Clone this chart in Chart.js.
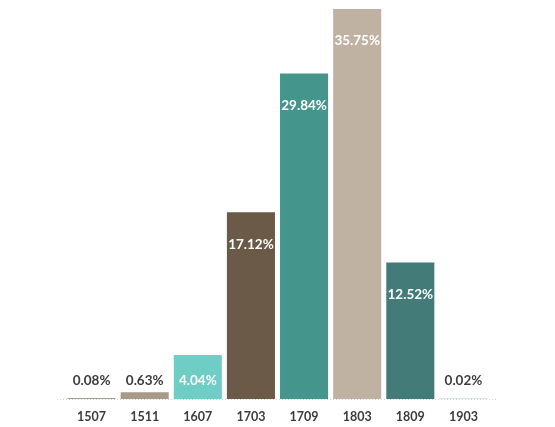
<!DOCTYPE html>
<html>
<head>
<meta charset="utf-8">
<script src="https://cdn.jsdelivr.net/npm/chart.js@4"></script>
<style>
  html, body { margin: 0; padding: 0; background: #fff; }
  #wrap { width: 555px; height: 427px; position: relative; }
</style>
</head>
<body>
<div id="wrap"><canvas id="shareChart"></canvas></div>
<script>
const years = ['1507', '1511', '1607', '1703', '1709', '1803', '1809', '1903'];
const shares = [0.08, 0.63, 4.04, 17.12, 29.84, 35.75, 12.52, 0.02];
const barColors = ['#8a7a68', '#a89a88', '#6ecdc4', '#6b5a48', '#44958c', '#c0b2a2', '#427b78', '#5a9e96'];

//labels inside the bar when there is room, otherwise just above the baseline
const valueLabels = {
    id: 'valueLabels',
    afterDatasetsDraw(chart) {
        const ctx = chart.ctx;
        const meta = chart.getDatasetMeta(0);
        const base = chart.scales.y.getPixelForValue(0);
        ctx.save();
        ctx.font = 'bold 13.5px Lato';
        ctx.textAlign = 'center';
        ctx.textBaseline = 'middle';
        meta.data.forEach((bar, i) => {
            const h = base - bar.y;
            const text = shares[i].toFixed(2) + '%';
            if (h > 35) {
                ctx.fillStyle = '#ffffff';
                ctx.fillText(text, bar.x, Math.min(bar.y + 32, base - 18));
            } else {
                ctx.fillStyle = '#3c3c3c';
                ctx.fillText(text, bar.x, base - 18);
            }
        });
        //dotted baseline
        ctx.strokeStyle = '#d0d0d0';
        ctx.lineWidth = 1;
        ctx.setLineDash([1, 2]);
        ctx.beginPath();
        ctx.moveTo(chart.chartArea.left - 8, base + 0.5);
        ctx.lineTo(chart.chartArea.right + 7, base + 0.5);
        ctx.stroke();
        ctx.restore();
    }
};

new Chart(document.getElementById('shareChart'), {
    type: 'bar',
    data: {
        labels: years,
        datasets: [{ data: shares, backgroundColor: barColors, barPercentage: 0.905, categoryPercentage: 1 }]
    },
    options: {
        responsive: true,
        maintainAspectRatio: false,
        animation: false,
        layout: { padding: { left: 65, right: 65, top: 9, bottom: 0 } },
        plugins: { legend: { display: false }, tooltip: { enabled: false } },
        scales: {
            x: {
                afterFit: (scale) => { scale.height = 28; },
                grid: { display: false, drawTicks: false },
                border: { display: false },
                ticks: { color: '#3c3c3c', font: { family: 'Lato', weight: 'bold', size: 12.5 }, padding: 10 }
            },
            y: { display: false, min: 0, max: 35.75 }
        }
    },
    plugins: [valueLabels]
});
</script>
</body>
</html>
